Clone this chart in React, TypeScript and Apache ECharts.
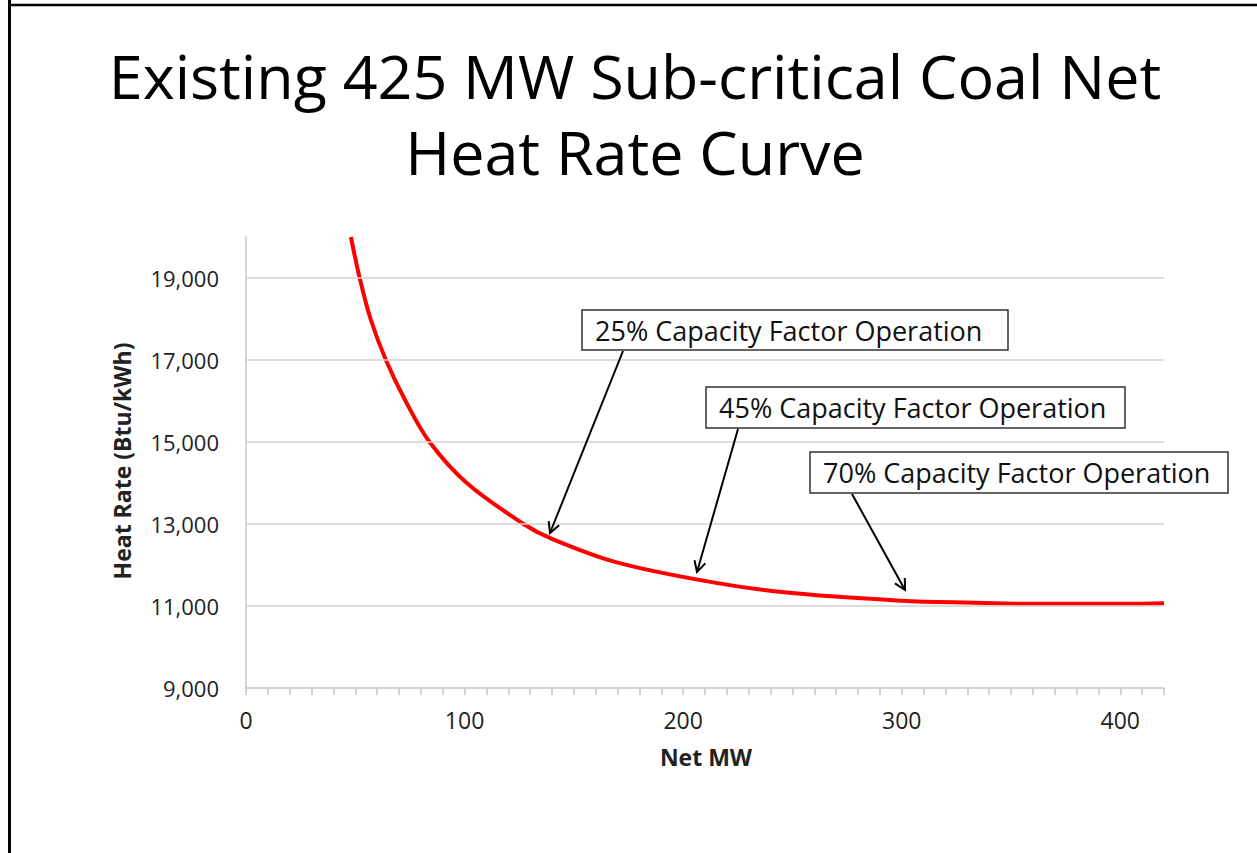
import { useEffect, useRef } from "react";
import * as echarts from "echarts";

// Curve readings (Net MW vs Heat Rate, Btu/kWh)
const netMW = [48, 52, 57, 64, 73, 84, 101, 127, 139, 168, 206, 245, 300, 333, 357, 403, 420];
const heatRate = [20000, 19000, 18000, 17000, 16000, 15000, 14000, 13000, 12660, 12090, 11650, 11340, 11130, 11080, 11056, 11056, 11070];

const xTickLabels = [0, 100, 200, 300, 400];
const yTickLabels = [9000, 11000, 13000, 15000, 17000, 19000];

const titleLines = ["Existing 425 MW Sub-critical Coal Net", "Heat Rate Curve"];
const xAxisName = "Net MW";
const yAxisName = "Heat Rate (Btu/kWh)";
const annotationTexts = [
  "25% Capacity Factor Operation",
  "45% Capacity Factor Operation",
  "70% Capacity Factor Operation",
];

const FONT = "'Open Sans', 'Noto Sans', sans-serif";

export default function App() {
  const ref = useRef<HTMLDivElement>(null);
  useEffect(() => {
    const chart = echarts.init(ref.current!, null, { renderer: "svg" });

    // annotation layout (pixels)
    const boxes = [
      { x: 582, y: 310, w: 426, h: 40, from: [623, 351], to: [550, 533] },
      { x: 706, y: 387, w: 419, h: 41, from: [738, 429], to: [697, 572] },
      { x: 810, y: 452, w: 418, h: 41, from: [852, 494], to: [905, 590] },
    ];

    const arrowHead = (from: number[], to: number[]) => {
      const dx = to[0] - from[0];
      const dy = to[1] - from[1];
      const len = Math.hypot(dx, dy);
      const ux = dx / len;
      const uy = dy / len;
      const L = 12;
      const th = (28 * Math.PI) / 180;
      const rot = (a: number) => [
        ux * Math.cos(a) - uy * Math.sin(a),
        ux * Math.sin(a) + uy * Math.cos(a),
      ];
      const r1 = rot(th);
      const r2 = rot(-th);
      return [
        [to[0] - L * r1[0], to[1] - L * r1[1]],
        [to[0], to[1]],
        [to[0] - L * r2[0], to[1] - L * r2[1]],
      ];
    };

    const graphics: any[] = [
      // frame
      { type: "line", shape: { x1: 9.5, y1: 0, x2: 9.5, y2: 853 }, style: { stroke: "#000", lineWidth: 3 } },
      { type: "line", shape: { x1: 8, y1: 5, x2: 1257, y2: 5 }, style: { stroke: "#000", lineWidth: 2.5 } },
      // title
      {
        type: "text", x: 635, y: 75,
        style: { text: titleLines[0], font: `61px ${FONT}`, fill: "#000", align: "center", verticalAlign: "middle" },
      },
      {
        type: "text", x: 635, y: 151,
        style: { text: titleLines[1], font: `61px ${FONT}`, fill: "#000", align: "center", verticalAlign: "middle" },
      },
      // axis names
      {
        type: "text", x: 706, y: 757,
        style: { text: xAxisName, font: `bold 23px ${FONT}`, fill: "#222", align: "center", verticalAlign: "middle" },
      },
      {
        type: "text", x: 122, y: 461, rotation: Math.PI / 2,
        style: { text: yAxisName, font: `bold 23px ${FONT}`, fill: "#222", align: "center", verticalAlign: "middle" },
      },
    ];

    boxes.forEach((b, i) => {
      graphics.push({
        type: "line",
        shape: { x1: b.from[0], y1: b.from[1], x2: b.to[0], y2: b.to[1] },
        style: { stroke: "#000", lineWidth: 2 },
        z: 10,
      });
      graphics.push({
        type: "polyline",
        shape: { points: arrowHead(b.from, b.to) },
        style: { stroke: "#000", lineWidth: 2, fill: null },
        z: 10,
      });
      graphics.push({
        type: "rect",
        shape: { x: b.x, y: b.y, width: b.w, height: b.h },
        style: { fill: "#fff", stroke: "#333", lineWidth: 1.5 },
        z: 10,
      });
      graphics.push({
        type: "text",
        x: b.x + 13,
        y: b.y + b.h / 2,
        style: { text: annotationTexts[i], font: `27px ${FONT}`, fill: "#111", align: "left", verticalAlign: "middle" },
        z: 11,
      });
    });

    const fmt = (v: number) => v.toLocaleString("en-US");

    chart.setOption({
      animation: false,
      backgroundColor: "#fff",
      grid: { left: 246, top: 237, width: 918, height: 451, containLabel: false },
      xAxis: {
        type: "value",
        min: 0,
        max: 420,
        interval: 10,
        axisLine: { show: true, lineStyle: { color: "#c6c6c6", width: 1.5 } },
        axisTick: { show: true, inside: false, length: 7, lineStyle: { color: "#c6c6c6", width: 1.5 } },
        splitLine: { show: false },
        axisLabel: {
          margin: 20,
          color: "#222",
          fontFamily: FONT,
          fontSize: 23,
          formatter: (v: number) => (xTickLabels.includes(v) ? String(v) : ""),
        },
      },
      yAxis: {
        type: "value",
        min: 9000,
        max: 20000,
        interval: 1000,
        axisLine: { show: true, lineStyle: { color: "#c6c6c6", width: 1.5 } },
        axisTick: { show: false },
        splitLine: { show: false },
        axisLabel: {
          margin: 27,
          color: "#222",
          fontFamily: FONT,
          fontSize: 22,
          formatter: (v: number) => (yTickLabels.includes(v) ? fmt(v) : ""),
        },
      },
      series: [
        {
          type: "line",
          data: [],
          z: 1,
          silent: true,
          markLine: {
            silent: true,
            symbol: ["none", "none"],
            label: { show: false },
            lineStyle: { color: "#d2d2d2", width: 1.5, type: "solid" },
            data: yTickLabels.filter((v) => v > 9000).map((v) => ({ yAxis: v })),
          },
        },
        {
          type: "line",
          data: netMW.map((x, i) => [x, heatRate[i]]),
          smooth: 0.35,
          showSymbol: false,
          symbol: "none",
          z: 3,
          lineStyle: { color: "#ff0000", width: 4 },
        },
      ],
      graphic: graphics,
    });

    return () => chart.dispose();
  }, []);

  return (
    <div
      ref={ref}
      style={{ position: "fixed", left: 0, top: 0, width: 1257, height: 853, background: "#fff" }}
    />
  );
}
